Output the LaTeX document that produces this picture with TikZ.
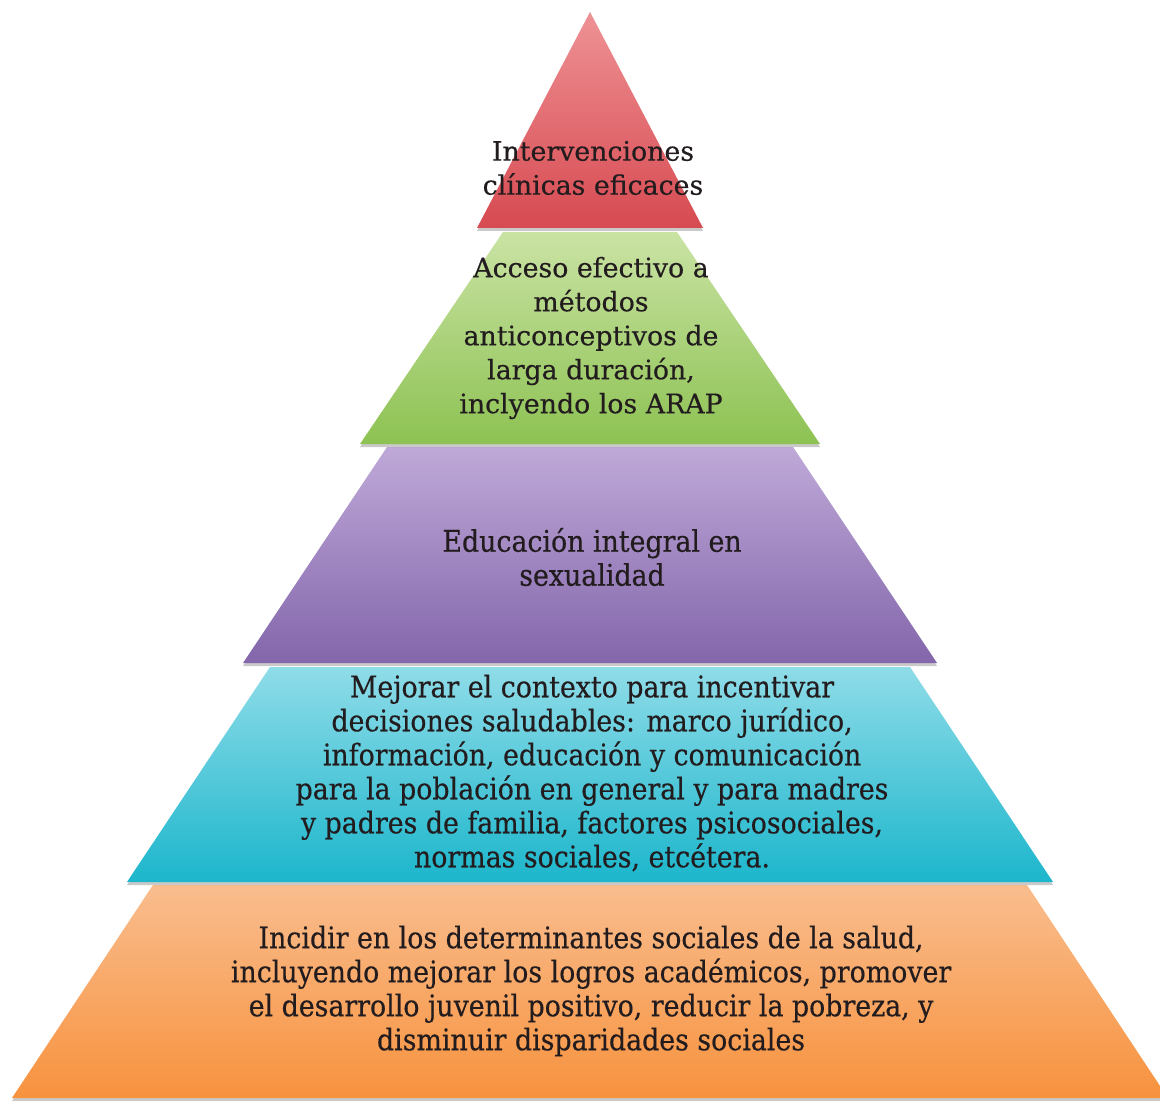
\documentclass[tikz,border=0pt]{standalone}
\usepackage{fontspec}
\setmainfont[FakeBold=0.4]{DejaVu Serif}
\newfontfamily\condfont[FakeBold=0.4]{DejaVu Serif Condensed}
\usetikzlibrary{shadows}
\definecolor{redT}{HTML}{EE9295}
\definecolor{redB}{HTML}{D74A51}
\definecolor{grnT}{HTML}{CAE3A4}
\definecolor{grnB}{HTML}{8DC253}
\definecolor{purT}{HTML}{BFA9D8}
\definecolor{purB}{HTML}{8366AB}
\definecolor{cyaT}{HTML}{8FDCE8}
\definecolor{cyaB}{HTML}{1CB6CC}
\definecolor{orgT}{HTML}{F9BD8E}
\definecolor{orgB}{HTML}{F7923E}
\definecolor{txt}{HTML}{221C1E}
\begin{document}
\begin{tikzpicture}[x=0.5pt,y=-0.5pt,
  tier/.style={drop shadow={shadow xshift=0pt,shadow yshift=-1.5pt,opacity=0.35,fill=black!60}},
  lbl/.style={align=center,text=txt,inner sep=0pt,font=\fontsize{13.4}{17}\selectfont},
  clbl/.style={align=center,text=txt,inner sep=0pt,font=\condfont\fontsize{14.9}{17}\selectfont}]
\useasboundingbox[fill=white] (0,0) rectangle (1160,1101);
\path[tier,top color=orgT,bottom color=orgB] (153,885) -- (1027,885) -- (1168,1098) -- (12,1098) -- cycle;
\path[tier,top color=cyaT,bottom color=cyaB] (270,667) -- (910,667) -- (1053,882) -- (127,882) -- cycle;
\path[tier,top color=purT,bottom color=purB] (387,447) -- (793,447) -- (937,663) -- (243,663) -- cycle;
\path[tier,top color=grnT,bottom color=grnB] (503,232) -- (677,232) -- (820,444) -- (360,444) -- cycle;
\path[tier,top color=redT,bottom color=redB] (590,12) -- (703,228) -- (477,228) -- cycle;
\node[lbl] (t1) at (593,168) {Intervenciones\\clínicas eficaces};
\node[lbl] (t2) at (591,338) {Acceso efectivo a\\métodos\\anticonceptivos de\\larga duración,\\inclyendo los ARAP};
\node[clbl] (t3) at (592,557) {Educación integral en\\sexualidad};
\node[clbl] (t4) at (592,773) {Mejorar el contexto para incentivar\\decisiones saludables: marco jurídico,\\información, educación y comunicación\\para la población en general y para madres\\y padres de familia, factores psicosociales,\\normas sociales, etcétera.};
\node[clbl] (t5) at (591,991) {Incidir en los determinantes sociales de la salud,\\incluyendo mejorar los logros académicos, promover\\el desarrollo juvenil positivo, reducir la pobreza, y\\disminuir disparidades sociales};
\end{tikzpicture}
\end{document}
